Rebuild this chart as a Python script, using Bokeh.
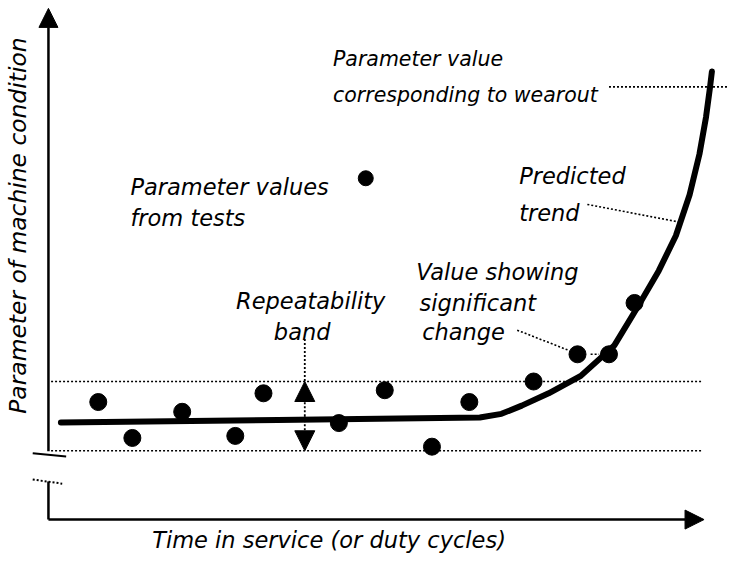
from bokeh.plotting import figure
from bokeh.models import Range1d, Arrow, NormalHead
from bokeh.core.properties import value
from bokeh.embed import file_html
from bokeh.resources import INLINE

# ---- data (time in service units, parameter units) ----
test_time = [7.6, 12.8, 20.4, 28.5, 32.8, 44.3, 51.3, 58.5, 64.2, 74.0, 80.7, 85.5, 89.4]
test_value = [22.9, 15.9, 21.0, 16.3, 24.6, 18.8, 25.2, 14.2, 22.9, 26.9, 32.2, 32.2, 42.2]

trend_time = [1.9, 35.0, 65.8, 69.1, 72.2, 76.3, 81.2, 84.5, 86.3, 90.1, 93.1, 95.7, 97.8, 99.3, 100.3, 100.9, 101.2]
trend_value = [18.9, 19.4, 19.9, 20.6, 22.2, 24.6, 28.0, 31.8, 33.9, 41.9, 48.5, 55.3, 63.3, 71.2, 78.4, 84.1, 87.3]

band_upper = 26.9
band_lower = 13.4
wearout_value = 84.3
legend_time = [48.4]
legend_value = [66.5]

x_label = "Time in service (or duty cycles)"
y_label = "Parameter of machine  condition"

# ---- layout ----
W, H = 728, 556
SX, SY = W / 744, H / 572
PX_X, PX_Y = 6.7 * SX, 5.28 * SY          # pixels per unit
ORIGIN_X, ORIGIN_Y = 49 * SX, 534 * SY    # origin inside figure, pixels
x_range = Range1d(-ORIGIN_X / PX_X, (W - ORIGIN_X) / PX_X)
y_range = Range1d(-(H - ORIGIN_Y) / PX_Y, ORIGIN_Y / PX_Y)

p = figure(width=W, height=H, x_range=x_range, y_range=y_range,
           output_backend="svg", toolbar_location=None, min_border=0,
           x_axis_location=None, y_axis_location=None)
p.grid.visible = False
p.outline_line_color = None
p.background_fill_color = "white"

FONT = value("DejaVu Sans")
DOT = "2 2"

# band lines
for b in (band_upper, band_lower):
    p.line([0.4, 99.6], [b, b], line_color="black", line_width=1.6, line_dash=DOT)
# wearout line
p.line([85.5, 104], [wearout_value, wearout_value], line_color="black", line_width=1.6, line_dash=DOT)

# axes
p.add_layout(Arrow(end=NormalHead(size=19, fill_color="black", line_color="black"),
                   x_start=0, y_start=13.3, x_end=0, y_end=99.6,
                   line_color="black", line_width=2.5))
p.line([0, 0], [0, 7.4], line_color="black", line_width=2.5)
p.add_layout(Arrow(end=NormalHead(size=19, fill_color="black", line_color="black"),
                   x_start=0, y_start=0, x_end=100, y_end=0,
                   line_color="black", line_width=2.5))
# axis break marks
p.line([-2.4, 2.7], [12.9, 12.3], line_color="black", line_width=2)
p.line([-2.4, 2.1], [7.8, 7.0], line_color="black", line_width=2, line_dash=DOT)

# repeatability band arrows
rx = 39.1
mid = (band_upper + band_lower) / 2
p.line([rx, rx], [35.2, band_upper], line_color="black", line_width=1.8, line_dash=DOT)
for tip in (band_upper, band_lower):
    p.add_layout(Arrow(end=NormalHead(size=20, fill_color="black", line_color="black"),
                       x_start=rx, y_start=mid, x_end=rx, y_end=tip,
                       line_color="black", line_width=1.8, line_dash=DOT))

# leaders
p.line([82.2, 96.1], [61.4, 58.0], line_color="black", line_width=1.6, line_dash=DOT)
p.line([71.5, 79.3], [36.9, 33.0], line_color="black", line_width=1.6, line_dash=DOT)
p.line([82.7, 84.0], [32.2, 32.2], line_color="black", line_width=1.6, line_dash=DOT)

# trend
p.line(trend_time, trend_value, line_color="black", line_width=6, line_cap="round", line_join="round")

# test points
p.scatter(test_time, test_value, size=17, color="black")
p.scatter(legend_time, legend_value, size=15, color="black")

# texts
def txt(x, y, s, align="left", size="22.5px", angle=0, baseline="alphabetic"):
    p.text(x=[x], y=[y], text=[s], text_font=FONT, text_font_style="italic",
           text_font_size=size, text_align=align, text_baseline=baseline,
           text_color="black", angle=angle)

txt(43.4, 89.8, "Parameter value", size="20.5px")
txt(43.4, 82.8, "corresponding to wearout", size="20.5px")
txt(12.5, 64.8, "Parameter values")
txt(12.5, 58.7, "from  tests")
txt(71.8, 66.9, "Predicted")
txt(71.8, 59.8, "trend")
txt(56.1, 48.3, "Value showing")
txt(56.6, 42.2, "significant")
txt(57.0, 36.6, "change")
txt(40.0, 42.6, "Repeatability", align="center")
txt(38.7, 36.6, "band", align="center")
txt(42.8, -3.9, x_label, align="center")
txt(-4.6, 58.0, y_label, align="center", size="23.4px", angle=1.5708, baseline="middle")

open("out.html", "w").write(file_html(p, INLINE))
